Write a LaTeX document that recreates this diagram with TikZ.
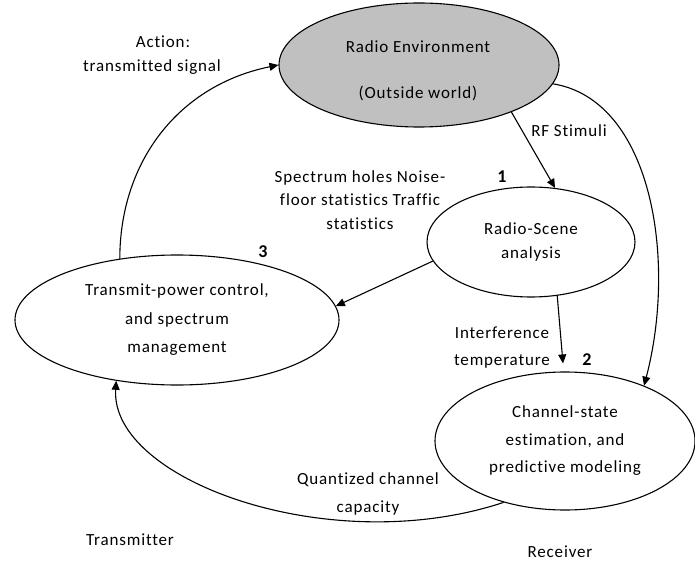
\documentclass[tikz,border=0pt]{standalone}
\usepackage{fontspec}
\setmainfont{Carlito}[LetterSpace=5,Ligatures={NoCommon}]
\usetikzlibrary{shapes.geometric,arrows.meta}
\begin{document}
\begin{tikzpicture}[x=1pt,y=-1pt,
  lbl/.style={font=\fontsize{17}{27}\selectfont, align=center, inner sep=0pt, text=black},
  ell/.style={draw, ellipse, line width=1.1pt, inner sep=0pt, align=center},
  conn/.style={draw, line width=1.1pt, -{Triangle[length=9pt,width=8pt]}},
  num/.style={font=\fontsize{18}{20}\selectfont\bfseries, inner sep=0pt}]
\useasboundingbox (0,0) rectangle (695,561);
% ellipses
\node[ell, fill={rgb,255:red,192;green,192;blue,192}, minimum width=280pt, minimum height=124pt] (env) at (419,65) {};
\node[lbl] (envt1) at (418,47) {Radio Environment};
\node[lbl] (envt2) at (418,93) {(Outside world)};
\node[ell, minimum width=208pt, minimum height=110pt, font=\fontsize{17}{24}\selectfont] (scene) at (531,242) {Radio-Scene\\analysis};
\node[ell, minimum width=324pt, minimum height=130pt, font=\fontsize{17}{28.5}\selectfont] (tpc) at (177,320) {Transmit-power control,\\and spectrum\\management};
\node[ell, minimum width=260pt, minimum height=138pt, font=\fontsize{17}{27.5}\selectfont] (ch) at (565,441) {Channel-state\\estimation, and\\predictive modeling};
% labels
\node[lbl] (act1) at (163,42) {Action:};
\node[lbl] (act2) at (152,67) {transmitted signal};
\node[lbl] (rf) at (569,131) {RF Stimuli};
\node[lbl, font=\fontsize{17}{23.5}\selectfont] (spec) at (360,200) {Spectrum holes Noise-\\floor statistics Traffic\\statistics};
\node[lbl, font=\fontsize{17}{27}\selectfont] (intf) at (502,348) {Interference\\temperature};
\node[lbl, font=\fontsize{17}{28}\selectfont] (quant) at (368,494) {Quantized channel\\capacity};
\node[lbl] (tx) at (130,540) {Transmitter};
\node[lbl] (rx) at (560,552) {Receiver};
\node[num] (n1) at (502,177) {1};
\node[num] (n2) at (587,360) {2};
\node[num] (n3) at (263,252) {3};
% connectors
\draw[conn] (tpc.133) .. controls (120,160) and (180,85) .. (env.west);
\draw[conn] (env.-27) -- (scene.66);
\draw[conn] (env.-8) .. controls (652,100) and (677,260) .. (ch.35);
\draw[conn] (scene.-169) -- (tpc.5);
\draw[conn] (scene.-64) -- ([xshift=-2pt,yshift=8pt]ch.north);
\draw[conn] (ch.-135) .. controls (330,560) and (110,480) .. (tpc.-135);
\end{tikzpicture}
\end{document}
